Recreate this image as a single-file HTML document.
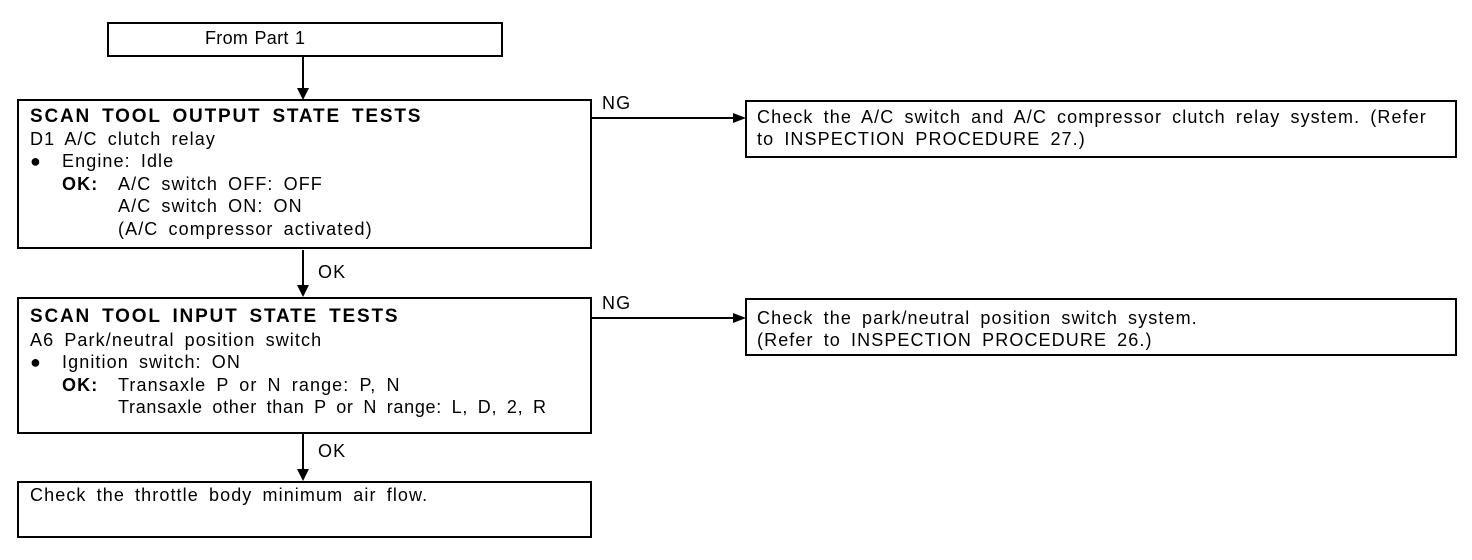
<!DOCTYPE html>
<html><head><meta charset="utf-8"><style>
body{margin:0;width:1472px;height:560px;background:#fff;position:relative;overflow:hidden;font-family:"Liberation Sans",Arial,sans-serif;color:#000}
.b{position:absolute;border:2px solid #000;box-sizing:border-box}
.t{position:absolute;font-size:18px;line-height:22px;white-space:pre;letter-spacing:1.1px;word-spacing:4px}
.h{position:absolute;font-weight:bold;font-size:19px;line-height:22px;white-space:pre;letter-spacing:1.8px;word-spacing:4px}
</style></head><body>
<svg width="1472" height="560" style="position:absolute;left:0;top:0">
<g stroke="#000" stroke-width="2" fill="none">
<line x1="303" y1="56" x2="303" y2="90"/>
<line x1="303" y1="250" x2="303" y2="286"/>
<line x1="303" y1="434" x2="303" y2="470"/>
<line x1="591" y1="118" x2="735" y2="118"/>
<line x1="591" y1="318" x2="735" y2="318"/>
</g>
<g fill="#000">
<polygon points="297,88 309,88 303,100"/>
<polygon points="297,285 309,285 303,297"/>
<polygon points="297,469 309,469 303,481"/>
<polygon points="733,113 733,123 746,118"/>
<polygon points="733,313 733,323 746,318"/>
</g>
</svg>
<div class="b" style="left:107px;top:22px;width:396px;height:35px"></div>
<div class="t" style="left:205px;top:27px;letter-spacing:0.3px;word-spacing:1px">From Part 1</div>

<div class="b" style="left:17px;top:99px;width:575px;height:150px"></div>
<div class="h" style="left:30px;top:106px">SCAN TOOL OUTPUT STATE TESTS</div>
<div class="t" style="left:30px;top:128px">D1 A/C clutch relay</div>
<div class="t" style="left:30px;top:150px">●</div>
<div class="t" style="left:62px;top:150px">Engine: Idle</div>
<div class="t" style="left:62px;top:173px"><b>OK:</b></div>
<div class="t" style="left:118px;top:173px">A/C switch OFF: OFF</div>
<div class="t" style="left:118px;top:195px">A/C switch ON: ON</div>
<div class="t" style="left:118px;top:218px">(A/C compressor activated)</div>

<div class="b" style="left:17px;top:297px;width:575px;height:137px"></div>
<div class="h" style="left:30px;top:306px">SCAN TOOL INPUT STATE TESTS</div>
<div class="t" style="left:30px;top:329px">A6 Park/neutral position switch</div>
<div class="t" style="left:30px;top:351px">●</div>
<div class="t" style="left:62px;top:351px">Ignition switch: ON</div>
<div class="t" style="left:62px;top:374px"><b>OK:</b></div>
<div class="t" style="left:118px;top:374px">Transaxle P or N range: P, N</div>
<div class="t" style="left:118px;top:396px;letter-spacing:0.7px">Transaxle other than P or N range: L, D, 2, R</div>

<div class="b" style="left:17px;top:481px;width:575px;height:57px"></div>
<div class="t" style="left:30px;top:484px">Check the throttle body minimum air flow.</div>

<div class="t" style="left:318px;top:261px">OK</div>
<div class="t" style="left:318px;top:440px">OK</div>
<div class="t" style="left:602px;top:92px">NG</div>
<div class="t" style="left:602px;top:292px">NG</div>

<div class="b" style="left:745px;top:100px;width:712px;height:58px"></div>
<div class="t" style="left:757px;top:106px">Check the A/C switch and A/C compressor clutch relay system. (Refer
to INSPECTION PROCEDURE 27.)</div>

<div class="b" style="left:745px;top:298px;width:712px;height:58px"></div>
<div class="t" style="left:757px;top:307px">Check the park/neutral position switch system.
(Refer to INSPECTION PROCEDURE 26.)</div>
</body></html>
